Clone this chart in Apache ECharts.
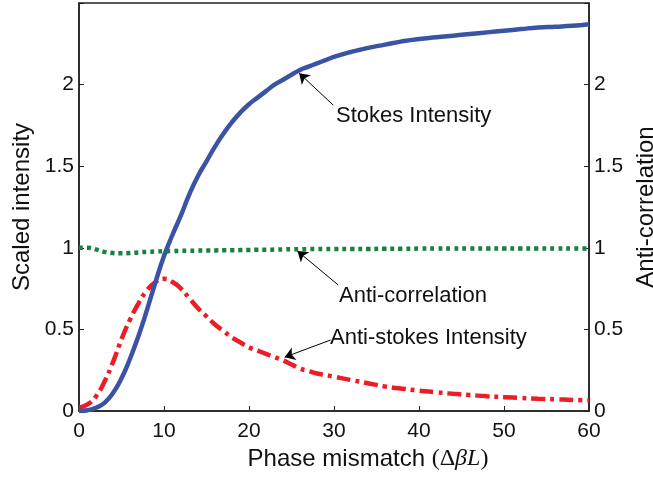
<!DOCTYPE html>
<html>
<head>
<meta charset="utf-8">
<script src="https://cdn.jsdelivr.net/npm/echarts@6/dist/echarts.min.js"></script>
<style>html,body{margin:0;padding:0;background:#fff;}#c{width:653px;height:477px;}</style>
</head>
<body>
<div id="c"></div>
<script>
// Phase mismatch (x)
var phaseX = [0,1,2,3,4,5,6,7,8,9,10,11,12,13,14,15,16,17,18,19,20,21,22,23,24,25,26,27,28,29,30,32,34,36,38,40,42,44,46,48,50,52,54,56,58,60];
// Stokes intensity
var stokes = [0,0.005,0.02,0.05,0.11,0.2,0.32,0.46,0.62,0.79,0.95,1.08,1.2,1.33,1.44,1.53,1.62,1.7,1.77,1.83,1.88,1.92,1.96,2.0,2.03,2.06,2.09,2.11,2.13,2.15,2.17,2.2,2.225,2.245,2.265,2.28,2.29,2.3,2.31,2.32,2.33,2.34,2.35,2.355,2.36,2.37];
// Anti-stokes intensity
var antiStokes = [0.02,0.04,0.09,0.18,0.3,0.44,0.56,0.66,0.74,0.79,0.81,0.79,0.75,0.69,0.63,0.58,0.53,0.49,0.45,0.42,0.39,0.37,0.35,0.33,0.31,0.285,0.26,0.245,0.23,0.22,0.21,0.19,0.17,0.15,0.137,0.125,0.115,0.105,0.098,0.09,0.085,0.08,0.075,0.072,0.068,0.065];
// Anti-correlation
var antiCorr = [1.0,1.0,0.99,0.975,0.968,0.966,0.968,0.972,0.975,0.977,0.979,0.98,0.981,0.982,0.983,0.984,0.984,0.985,0.985,0.986,0.987,0.988,0.988,0.989,0.99,0.991,0.991,0.992,0.992,0.992,0.993,0.993,0.993,0.994,0.994,0.995,0.995,0.995,0.995,0.995,0.995,0.995,0.995,0.995,0.995,0.995];
var yTicks = [0, 0.5, 1, 1.5, 2];
var xTicks = [0, 10, 20, 30, 40, 50, 60];

function pairs(ys){ return phaseX.map(function(x,i){ return [x, ys[i]]; }); }

var FONT = 'Liberation Sans, Arial, Helvetica, sans-serif';
var chart = echarts.init(document.getElementById('c'), null, {renderer:'canvas'});

function yLabelFmt(v){ return yTicks.indexOf(v) >= 0 ? String(v) : ''; }

var axisLineStyle = {color:'#222', width:1.5};
var arrowML = function(from, to){
  return {silent:true, symbol:['none','arrow'], symbolSize:10, symbolOffset:0, label:{show:false},
    emphasis:{disabled:true},
    lineStyle:{color:'#000', width:1, type:'solid'},
    data:[[{coord:from},{coord:to}]]};
};
var option = {
  animation:false,
  grid:{left:79, right:64, top:3, bottom:66, show:true, borderColor:'#222', borderWidth:1.5, backgroundColor:'#fff', outerBoundsMode:'none', containLabel:false},
  xAxis:{
    type:'value', min:0, max:60, interval:10,
    axisLine:{show:true, onZero:false, lineStyle:axisLineStyle},
    axisTick:{show:true, inside:true, length:5, lineStyle:{color:'#222', width:1}},
    axisLabel:{color:'#111', fontSize:21, fontFamily:FONT, margin:10},
    splitLine:{show:false},
    name:'{a|Phase mismatch }{b|(Δ}{c|βL}{b|)}',
    nameLocation:'middle', nameGap:36,
    nameTextStyle:{padding:[0,0,0,68], rich:{
      a:{fontSize:24, fontFamily:FONT, color:'#111'},
      b:{fontSize:24, fontFamily:'Liberation Serif, Times New Roman, serif', color:'#111'},
      c:{fontSize:24, fontFamily:'Liberation Serif, Times New Roman, serif', fontStyle:'italic', color:'#111'}
    }}
  },
  yAxis:[{
    type:'value', min:0, max:2.5, interval:0.5, position:'left',
    axisLine:{show:true, lineStyle:axisLineStyle},
    axisTick:{show:true, inside:true, length:5, lineStyle:{color:'#222', width:1}},
    axisLabel:{color:'#111', fontSize:21, fontFamily:FONT, margin:5, formatter:yLabelFmt},
    splitLine:{show:false},
    name:'Scaled intensity', nameLocation:'middle', nameRotate:90, nameGap:45,
    nameTextStyle:{fontSize:24, fontFamily:FONT, color:'#111'}
  },{
    type:'value', min:0, max:2.5, interval:0.5, position:'right',
    axisLine:{show:true, lineStyle:axisLineStyle},
    axisTick:{show:true, inside:true, length:5, lineStyle:{color:'#222', width:1}},
    axisLabel:{color:'#111', fontSize:21, fontFamily:FONT, margin:5, formatter:yLabelFmt},
    splitLine:{show:false},
    name:'Anti-correlation', nameLocation:'middle', nameRotate:90, nameGap:39,
    nameTextStyle:{fontSize:24, fontFamily:FONT, color:'#111'}
  }],
  series:[{
    name:'Anti-stokes Intensity', type:'line', yAxisIndex:0, data:pairs(antiStokes),
    showSymbol:false, smooth:true,
    lineStyle:{color:'#ee1c25', width:4.5, type:[14,5,4,5]},
    markLine:arrowML([29.6,0.435],[24.2,0.33])
  },{
    name:'Stokes Intensity', type:'line', yAxisIndex:0, data:pairs(stokes),
    showSymbol:false, smooth:true,
    lineStyle:{color:'#3a53a4', width:4.5, type:'solid'},
    markLine:arrowML([29.9,1.875],[25.9,2.07])
  },{
    name:'Anti-correlation', type:'line', yAxisIndex:1, data:pairs(antiCorr),
    showSymbol:false, smooth:true,
    lineStyle:{color:'#17813f', width:4.5, type:[4,4]},
    markLine:arrowML([30.5,0.772],[25.7,0.98])
  }],
  graphic:[
    {type:'text', left:336, top:105, style:{text:'Stokes Intensity', fontSize:22, fontFamily:FONT, fill:'#111'}},
    {type:'text', left:339, top:285, style:{text:'Anti-correlation', fontSize:22, fontFamily:FONT, fill:'#111'}},
    {type:'text', left:330, top:327, style:{text:'Anti-stokes Intensity', fontSize:22, fontFamily:FONT, fill:'#111'}}
  ]
};
chart.setOption(option);
</script>
</body>
</html>
